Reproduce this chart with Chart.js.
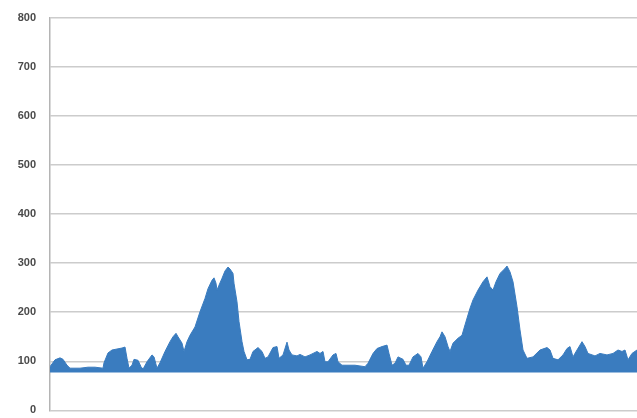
<!DOCTYPE html>
<html>
<head>
<meta charset="utf-8">
<script src="https://cdn.jsdelivr.net/npm/chart.js@4/dist/chart.umd.min.js"></script>
<style>
  html, body { margin: 0; padding: 0; background: #fff; overflow: hidden; }
  #wrap { width: 690px; height: 434px; margin-top: -3px; }
</style>
</head>
<body>
<div id="wrap"><canvas id="areaChart"></canvas></div>
<script>
// sample position along the x axis, and the value at that sample
var samples = [0,5,10,13,17,20,30,38,45,53,54,58,62,67,72,75,77,79,82,84,88,91,93,97,102,104,107,110,115,120,
  123,126,128,132,134,137,140,145,150,155,158,162,164,166,167,169,172,175,178,180,183,184,187,189,192,194,197,200,203,208,
  212,215,218,223,227,229,233,237,239,242,247,250,255,260,267,270,273,275,278,283,286,288,292,305,315,318,323,327,332,337,
  339,342,345,348,353,356,359,363,368,371,373,377,382,387,390,392,395,398,400,403,408,412,415,420,423,428,433,437,440,443,
  446,450,455,457,460,463,467,470,473,477,483,490,497,500,503,508,513,517,520,523,527,532,535,538,545,550,557,563,568,572,
  575,578,582,587,595,605,615,625,640];
var values = [89,103,107,104,92,86,86,88,88,86,97,117,123,125,127,129,106,86,92,104,102,89,84,99,113,109,86,97,120,140,
  150,157,150,137,120,140,153,170,201,228,248,265,270,259,245,255,269,284,292,288,279,259,221,181,140,120,103,104,120,128,
  120,106,109,128,130,106,113,139,123,113,111,114,109,113,120,116,120,99,99,113,116,99,92,92,89,96,116,126,130,133,
  116,92,96,109,104,92,92,109,116,109,86,99,120,140,150,160,150,130,120,137,147,153,174,208,225,245,262,272,252,245,
  262,279,289,294,282,262,211,164,123,106,109,123,128,123,106,103,113,126,130,109,123,140,130,116,111,116,113,116,123,120,
  123,103,116,123,118,120,115,118,120];
var yTicks = [0,100,200,300,400,500,600,700,800];
var baseline = 77;

var points = samples.map(function(s, i) { return {x: s, y: values[i]}; });

var ctx = document.getElementById('areaChart');
var chart = new Chart(ctx, {
  type: 'line',
  data: {
    datasets: [{
      data: points,
      borderColor: '#3a7cbf',
      borderWidth: 1,
      backgroundColor: '#3a7cbf',
      fill: {value: baseline},
      pointRadius: 0,
      tension: 0
    }]
  },
  options: {
    responsive: true,
    maintainAspectRatio: false,
    animation: false,
    layout: { padding: 0 },
    plugins: { legend: { display: false }, tooltip: { enabled: false } },
    scales: {
      x: {
        type: 'linear', min: 0, max: 640, display: false
      },
      y: {
        min: 0, max: 800,
        afterBuildTicks: function(axis) { axis.ticks = yTicks.map(function(v) { return {value: v}; }); },
        afterFit: function(axis) { axis.width = 50; },
        border: { color: '#b4b4b4', width: 1.5 },
        grid: { color: '#cccccc', lineWidth: 1.5, drawTicks: false },
        ticks: {
          padding: 14,
          color: '#4a4a4a',
          font: { family: 'Liberation Sans', size: 11, weight: 'bold' }
        }
      }
    }
  }
});
</script>
</body>
</html>
